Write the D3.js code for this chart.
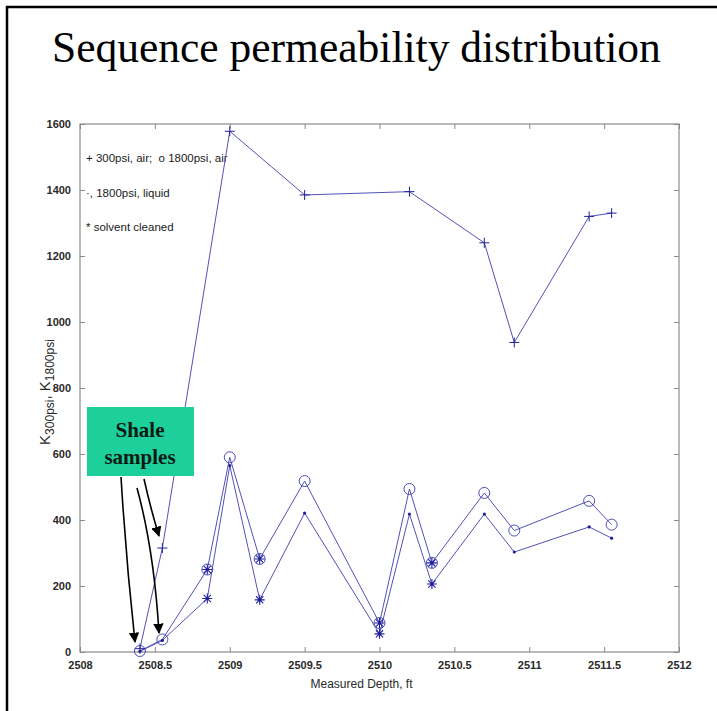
<!DOCTYPE html>
<html>
<head>
<meta charset="utf-8">
<title>Sequence permeability distribution</title>
<script src="https://cdn.jsdelivr.net/npm/d3@7"></script>
<style>
  body { margin: 0; background: #fff; }
</style>
</head>
<body>
<div id="chart"></div>
<script>
// data
var depthAir300 = [2508.4, 2508.55, 2509.0, 2509.5, 2510.2, 2510.7, 2510.9, 2511.4, 2511.55];
var kAir300 = [10, 315, 1578, 1385, 1395, 1240, 938, 1320, 1330];

var depth1800 = [2508.4, 2508.55, 2508.85, 2509.0, 2509.2, 2509.5, 2510.0, 2510.2, 2510.35, 2510.7, 2510.9, 2511.4, 2511.55];
var kAir1800 = [3, 38, 250, 590, 282, 518, 88, 494, 270, 482, 368, 458, 386];
var kLiq1800 = [2, 35, 162, 565, 158, 421, 55, 418, 206, 418, 303, 379, 345];

var solventDepths = [2508.85, 2509.2, 2510.0, 2510.35];

var xTicks = [2508, 2508.5, 2509, 2509.5, 2510, 2510.5, 2511, 2511.5, 2512];
var yTicks = [0, 200, 400, 600, 800, 1000, 1200, 1400, 1600];

var legendLines = ["+ 300psi, air;  o 1800psi, air", "\u00b7, 1800psi, liquid", "* solvent cleaned"];

var width = 717, height = 711;
var margin = {left: 80, right: 38, top: 124, bottom: 59};

var svg = d3.select("#chart").append("svg").attr("width", width).attr("height", height);

// slide frame
svg.append("path").attr("d", "M7,711 V7 H717").attr("fill", "none").attr("stroke", "#000").attr("stroke-width", 2.5);

svg.append("text").attr("x", 52).attr("y", 62)
  .style("font-family", "'Liberation Serif', 'Times New Roman', serif")
  .style("font-size", "43.5px").attr("fill", "#000")
  .text("Sequence permeability distribution");

var x = d3.scaleLinear().domain([2508, 2512]).range([margin.left, width - margin.right]);
var y = d3.scaleLinear().domain([0, 1600]).range([height - margin.bottom, margin.top]);

var axisColor = "#8a8a8a";
var tickFont = "'Liberation Sans', Arial, sans-serif";

// box
svg.append("rect").attr("x", x(2508)).attr("y", y(1600))
  .attr("width", x(2512) - x(2508)).attr("height", y(0) - y(1600))
  .attr("fill", "none").attr("stroke", axisColor).attr("stroke-width", 1.2);

function styleAxis(g) {
  g.select(".domain").remove();
  g.selectAll(".tick line").attr("stroke", axisColor).attr("stroke-width", 1);
  g.selectAll(".tick text").attr("fill", "#2a2a2a").style("font-family", tickFont)
    .style("font-size", "11px").style("font-weight", "bold");
}

var fmt = function(d) { return String(d); };

svg.append("g").attr("transform", "translate(0," + y(0) + ")")
  .call(d3.axisBottom(x).tickValues(xTicks).tickFormat(fmt).tickSizeInner(-5).tickPadding(9))
  .call(styleAxis);
svg.append("g").attr("transform", "translate(0," + y(1600) + ")")
  .call(d3.axisTop(x).tickValues(xTicks).tickFormat("").tickSizeInner(-5))
  .call(styleAxis);
svg.append("g").attr("transform", "translate(" + x(2508) + ",0)")
  .call(d3.axisLeft(y).tickValues(yTicks).tickFormat(fmt).tickSizeInner(-5).tickPadding(9))
  .call(styleAxis);
svg.append("g").attr("transform", "translate(" + x(2512) + ",0)")
  .call(d3.axisRight(y).tickValues(yTicks).tickFormat("").tickSizeInner(-5))
  .call(styleAxis);

// axis labels
svg.append("text").attr("x", (x(2508) + x(2512)) / 2 - 18).attr("y", 688)
  .attr("text-anchor", "middle").attr("fill", "#2a2a2a")
  .style("font-family", tickFont).style("font-size", "12px")
  .text("Measured Depth, ft");

var ylab = svg.append("text").attr("transform", "translate(50,392) rotate(-90)")
  .attr("text-anchor", "middle").attr("fill", "#2a2a2a")
  .style("font-family", tickFont).style("font-size", "15px");
ylab.append("tspan").text("K");
ylab.append("tspan").attr("dy", 4).style("font-size", "12px").text("300psi");
ylab.append("tspan").attr("dy", -4).text(", K");
ylab.append("tspan").attr("dy", 4).style("font-size", "12px").text("1800psi");

// legend text inside axes
legendLines.forEach(function(t, i) {
  svg.append("text").attr("x", 86).attr("y", 162 + i * 34.5)
    .attr("fill", "#1a1a1a").style("font-family", tickFont).style("font-size", "11.5px")
    .style("white-space", "pre")
    .text(t);
});

var lineColor = "#5252b8";
var markColor = "#20209a";

var line = d3.line().x(function(d) { return x(d[0]); }).y(function(d) { return y(d[1]); });

var s300 = d3.zip(depthAir300, kAir300);
var sAir = d3.zip(depth1800, kAir1800);
var sLiq = d3.zip(depth1800, kLiq1800);

[s300, sAir, sLiq].forEach(function(s) {
  svg.append("path").datum(s).attr("d", line)
    .attr("fill", "none").attr("stroke", lineColor).attr("stroke-width", 1);
});

// + markers
svg.append("g").selectAll("path").data(s300).join("path")
  .attr("d", function(d) { var px = x(d[0]), py = y(d[1]);
    return "M" + (px - 5) + "," + py + "H" + (px + 5) + "M" + px + "," + (py - 5) + "V" + (py + 5); })
  .attr("stroke", markColor).attr("stroke-width", 1).attr("fill", "none");

// o markers
svg.append("g").selectAll("circle").data(sAir).join("circle")
  .attr("cx", function(d) { return x(d[0]); }).attr("cy", function(d) { return y(d[1]); })
  .attr("r", 5.5).attr("fill", "none").attr("stroke", "#3a3aaa").attr("stroke-width", 0.9);

// . markers
svg.append("g").selectAll("circle").data(sLiq).join("circle")
  .attr("cx", function(d) { return x(d[0]); }).attr("cy", function(d) { return y(d[1]); })
  .attr("r", 1.6).attr("fill", markColor);

// * markers on solvent cleaned samples
var starPts = sAir.concat(sLiq).filter(function(d) { return solventDepths.indexOf(d[0]) >= 0; });
svg.append("g").selectAll("path").data(starPts).join("path")
  .attr("d", function(d) { var px = x(d[0]), py = y(d[1]), r = 5, q = 3.6;
    return "M" + (px - r) + "," + py + "H" + (px + r) + "M" + px + "," + (py - r) + "V" + (py + r) +
      "M" + (px - q) + "," + (py - q) + "L" + (px + q) + "," + (py + q) +
      "M" + (px - q) + "," + (py + q) + "L" + (px + q) + "," + (py - q); })
  .attr("stroke", markColor).attr("stroke-width", 1.1).attr("fill", "none");

// Shale samples callout
svg.append("defs").append("marker").attr("id", "ah")
  .attr("viewBox", "0 0 10 10").attr("refX", 9).attr("refY", 5)
  .attr("markerWidth", 6.5).attr("markerHeight", 6.5).attr("orient", "auto")
  .append("path").attr("d", "M0,0 L10,5 L0,10 z").attr("fill", "#000");

var arrows = [
  "M121,477 Q126,560 135,642",
  "M137,488 Q154,550 159,633",
  "M144,479 Q151,510 159,536"
];
arrows.forEach(function(a) {
  svg.append("path").attr("d", a).attr("fill", "none")
    .attr("stroke", "#000").attr("stroke-width", 1.6).attr("marker-end", "url(#ah)");
});

svg.append("rect").attr("x", 87).attr("y", 407).attr("width", 107).attr("height", 69)
  .attr("fill", "#1ccf9b");
var shale = svg.append("text").attr("text-anchor", "middle").attr("fill", "#0a1a12")
  .style("font-family", "'Liberation Serif', 'Times New Roman', serif")
  .style("font-size", "21px").style("font-weight", "bold");
shale.append("tspan").attr("x", 140).attr("y", 437).text("Shale");
shale.append("tspan").attr("x", 140).attr("y", 464).text("samples");
</script>
</body>
</html>
